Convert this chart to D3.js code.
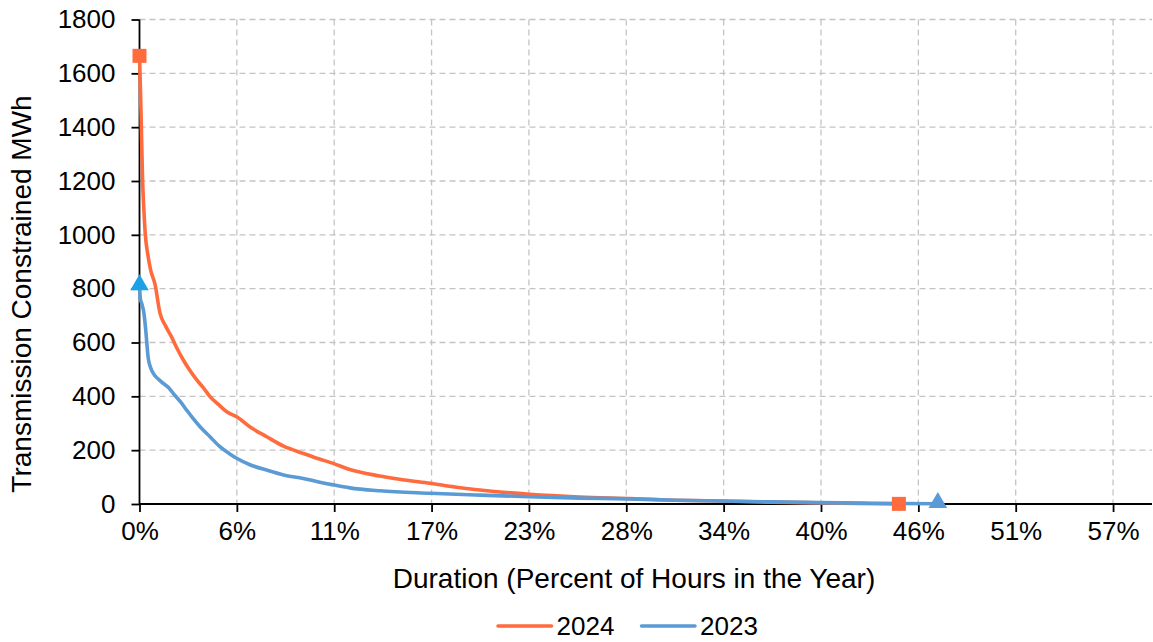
<!DOCTYPE html>
<html>
<head>
<meta charset="utf-8">
<script src="https://cdn.jsdelivr.net/npm/d3@7"></script>
<style>
  html, body { margin: 0; padding: 0; background: #ffffff; }
  svg { display: block; font-family: "Liberation Sans", Arial, sans-serif; }
</style>
</head>
<body>
<svg id="chart" width="1153" height="642"></svg>
<script>
// ---- data (hours ranked, MWh) ----
const hours2024 = [0, 4, 8, 11, 16, 22, 30, 42, 57, 80, 105, 135, 165, 195, 225, 260, 294, 330, 362, 405, 448, 499, 570, 653, 740, 841, 920, 995, 1080, 1234, 1360, 1491, 1620, 1748, 2004, 2261, 2518, 2750, 2980, 3240, 3490, 3700, 3900];
const mwh2024   = [1665, 1560, 1450, 1350, 1200, 1100, 1000, 930, 870, 815, 710, 660, 620, 575, 535, 495, 461, 430, 399, 370, 343, 324, 285, 250, 215, 188, 168, 151, 128, 104, 89, 77, 63, 52, 36, 26, 20, 14, 11, 7, 4, 2, 0.5];
const hours2023 = [0, 5, 11, 23, 32, 45, 58, 71, 95, 122, 150, 173, 210, 242, 275, 311, 362, 413, 460, 499, 570, 653, 740, 841, 920, 995, 1080, 1234, 1491, 1750, 2004, 2261, 2518, 2750, 2980, 3240, 3490, 3750, 4100];
const mwh2023   = [810, 760, 746, 708, 646, 541, 505, 485, 465, 448, 432, 411, 380, 349, 318, 287, 250, 213, 188, 170, 145, 126, 108, 95, 82, 71, 60, 49, 40, 33, 27, 22, 19, 14, 11, 8, 5, 3, 1];
const seriesNames = ["2024", "2023"];
const xTickHours  = [0, 500, 1000, 1500, 2000, 2500, 3000, 3500, 4000, 4500, 5000];
const xTickLabels = ["0%", "6%", "11%", "17%", "23%", "28%", "34%", "40%", "46%", "51%", "57%"];
const yTicks      = [0, 200, 400, 600, 800, 1000, 1200, 1400, 1600, 1800];

(function () {
// ---- layout ----
const svg = d3.select("#chart");
const pL = 139.5, pR = 1152, pT = 19.5, pB = 504;
const x = d3.scaleLinear().domain([0, 5200]).range([pL, pR]);
const y = d3.scaleLinear().domain([0, 1800]).range([pB, pT]);
const cOrange = "#FF6B3D", cBlue = "#5B9BD5", cBlueStart = "#1BA1E6";

// grid
const grid = svg.append("g");
grid.selectAll("line.h").data(yTicks.filter(d => d > 0)).join("line")
  .attr("x1", pL).attr("x2", pR)
  .attr("y1", d => y(d)).attr("y2", d => y(d))
  .attr("stroke", "#c4c4c4").attr("stroke-width", 1.3).attr("stroke-dasharray", "6,4");
grid.selectAll("line.v").data(xTickHours.filter(d => d > 0)).join("line")
  .attr("x1", d => x(d)).attr("x2", d => x(d))
  .attr("y1", pT).attr("y2", pB)
  .attr("stroke", "#c4c4c4").attr("stroke-width", 1.3).attr("stroke-dasharray", "6,4");

// axes
const yAxis = svg.append("g").attr("transform", `translate(${pL},0)`)
  .call(d3.axisLeft(y).tickValues(yTicks).tickSize(8).tickPadding(16).tickFormat(d3.format("d")));
const xAxis = svg.append("g").attr("transform", `translate(0,${pB})`)
  .call(d3.axisBottom(x).tickValues(xTickHours).tickSize(8).tickPadding(10)
    .tickFormat((d, i) => xTickLabels[i]));
[yAxis, xAxis].forEach(a => {
  a.select(".domain").attr("stroke", "#000").attr("stroke-width", 1.8);
  a.selectAll(".tick line").attr("stroke", "#000").attr("stroke-width", 1.8);
  a.selectAll(".tick text").attr("fill", "#000").style("font-size", "26px")
    .style("font-family", "'Liberation Sans', Arial, sans-serif");
});
xAxis.select(".domain").attr("d", `M${pL},0H${pR}`);
yAxis.select(".domain").attr("d", `M0,${pB}V${pT}`);

// series
const line = d3.line().x(d => x(d[0])).y(d => y(d[1])).curve(d3.curveMonotoneX);
const s2024 = hours2024.map((h, i) => [h, mwh2024[i]]);
const s2023 = hours2023.map((h, i) => [h, mwh2023[i]]);
svg.append("path").datum(s2024).attr("d", line).attr("fill", "none")
  .attr("stroke", cOrange).attr("stroke-width", 3.6).attr("stroke-linejoin", "round");
svg.append("path").datum(s2023).attr("d", line).attr("fill", "none")
  .attr("stroke", cBlue).attr("stroke-width", 3.6).attr("stroke-linejoin", "round");

// markers
const sq = 14;
[s2024[0], s2024[s2024.length - 1]].forEach(p => {
  svg.append("rect").attr("x", x(p[0]) - sq / 2).attr("y", y(p[1]) - sq / 2)
    .attr("width", sq).attr("height", sq).attr("fill", cOrange);
});
const tri = d3.symbol().type(d3.symbolTriangle).size(150);
[[s2023[0], cBlueStart], [s2023[s2023.length - 1], cBlue]].forEach(([p, c]) => {
  svg.append("path").attr("d", tri).attr("transform", `translate(${x(p[0])},${y(p[1]) - 1})`)
    .attr("fill", c);
});

// titles
svg.append("text").attr("x", 634).attr("y", 588).attr("text-anchor", "middle")
  .style("font-size", "28px").attr("fill", "#000").text("Duration (Percent of Hours in the Year)");
svg.append("text").attr("transform", "translate(31,294) rotate(-90)").attr("text-anchor", "middle")
  .style("font-size", "28px").attr("fill", "#000").text("Transmission Constrained MWh");

// legend
const legend = svg.append("g");
const legendItems = [
  { name: seriesNames[0], color: cOrange, x0: 498 },
  { name: seriesNames[1], color: cBlue, x0: 641.5 }
];
legendItems.forEach(it => {
  legend.append("line").attr("x1", it.x0).attr("x2", it.x0 + 53.5).attr("y1", 626).attr("y2", 626)
    .attr("stroke", it.color).attr("stroke-width", 3.5).attr("stroke-linecap", "round");
  legend.append("text").attr("x", it.x0 + 58.5).attr("y", 635).style("font-size", "26px")
    .attr("fill", "#000").text(it.name);
});
})();
</script>
</body>
</html>
